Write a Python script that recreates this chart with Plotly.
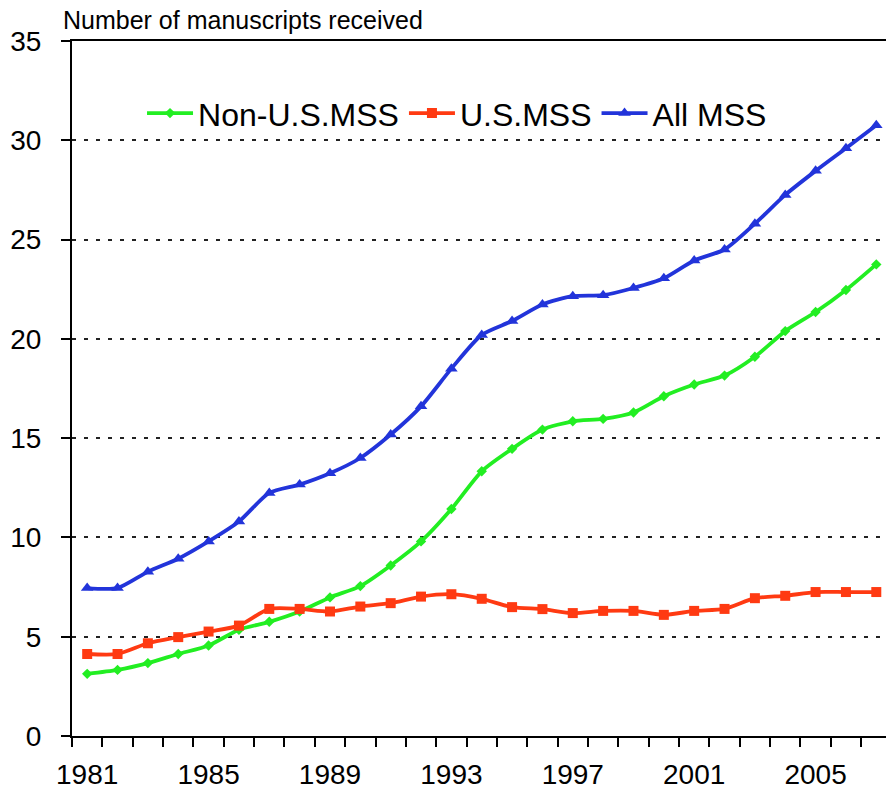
import plotly.graph_objects as go

years = list(range(1981, 2008))
non_us = [3.13, 3.33, 3.67, 4.13, 4.56, 5.35, 5.75, 6.27, 6.98, 7.55, 8.59, 9.8, 11.43, 13.33,
          14.46, 15.43, 15.85, 15.97, 16.29, 17.11, 17.7, 18.15, 19.1, 20.39, 21.35, 22.46, 23.75]
us = [4.13, 4.13, 4.67, 4.98, 5.26, 5.56, 6.4, 6.4, 6.27, 6.52, 6.69, 7.02, 7.14, 6.91,
      6.49, 6.39, 6.19, 6.3, 6.3, 6.1, 6.3, 6.4, 6.94, 7.06, 7.25, 7.25, 7.25]
all_mss = [7.45, 7.45, 8.27, 8.93, 9.8, 10.8, 12.24, 12.66, 13.23, 14.0, 15.18, 16.6, 18.5, 20.2,
           20.9, 21.73, 22.15, 22.2, 22.56, 23.05, 23.95, 24.5, 25.8, 27.25, 28.46, 29.6, 30.76]
label_years = [1981, 1985, 1989, 1993, 1997, 2001, 2005]
y_ticks = [0, 5, 10, 15, 20, 25, 30, 35]

FONT = "Liberation Sans, Arial, sans-serif"

fig = go.Figure()
series = [
    ("Non-U.S.MSS", non_us, "#22EE22", "diamond", 8),
    ("U.S.MSS", us, "#FF3A12", "square", 10),
    ("All MSS", all_mss, "#2234DA", "triangle-up", 11),
]
for name, vals, color, sym, sz in series:
    fig.add_trace(go.Scatter(
        x=years, y=vals, name=name, mode="lines+markers",
        line=dict(color=color, width=3.8, shape="spline", smoothing=0.7),
        marker=dict(symbol=sym, size=sz, color=color),
    ))

boundaries = [y - 0.5 for y in years] + [years[-1] + 0.5]

fig.update_layout(
    width=886, height=793,
    paper_bgcolor="white", plot_bgcolor="white",
    margin=dict(l=72, r=0, t=41, b=57, autoexpand=False),
    font=dict(family=FONT, color="black"),
    title=dict(text="Number of manuscripts received", font=dict(size=25, family=FONT, color="black"),
               xref="container", x=63 / 886, xanchor="left",
               yref="container", y=1 - 20 / 793, yanchor="middle", automargin=False),
    legend=dict(orientation="h", x=0.473, xanchor="center", y=0.896, yanchor="middle",
                font=dict(size=32, family=FONT, color="black"), bgcolor="rgba(0,0,0,0)",
                itemwidth=46, tracegroupgap=0),
    showlegend=True,
)

fig.update_xaxes(
    range=[1980.5, 2007.32], automargin=False,
    tickmode="array", tickvals=label_years, ticktext=[str(y) for y in label_years],
    ticks="outside", ticklen=12, tickcolor="rgba(0,0,0,0)",
    tickfont=dict(size=28, family=FONT, color="black"),
    showgrid=False, zeroline=False,
    showline=True, linecolor="black", linewidth=2, mirror=True,
    minor=dict(tickmode="array", tickvals=boundaries, ticks="outside", ticklen=9,
               tickcolor="black", tickwidth=2, showgrid=False),
)
fig.update_yaxes(
    range=[0, 35], tickmode="array", tickvals=y_ticks, automargin=False,
    ticks="outside", ticklen=9, tickcolor="black", tickwidth=2,
    ticklabelstandoff=14,
    tickfont=dict(size=28, family=FONT, color="black"),
    showgrid=True, gridcolor="#222222", gridwidth=2, griddash="4px,8px",
    zeroline=False, showline=True, linecolor="black", linewidth=2,
)

fig.write_html("out.html", config={"displayModeBar": False},
               post_script="document.body.style.margin='0';document.body.style.overflow='hidden';")
